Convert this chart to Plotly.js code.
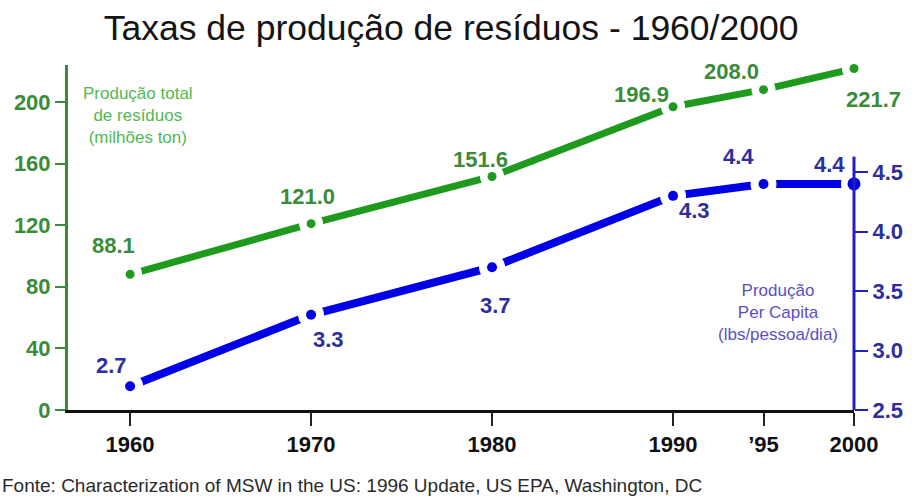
<!DOCTYPE html>
<html>
<head>
<meta charset="utf-8">
<script src="https://cdn.plot.ly/plotly-3.0.1.min.js"></script>
<style>html,body{margin:0;padding:0;background:#fff;}#chart{width:915px;height:500px;}</style>
</head>
<body>
<div id="chart"></div>
<script>
// ---- data ----
const years = [1960, 1970, 1980, 1990, 1995, 2000];
const yearLabels = ['1960', '1970', '1980', '1990', '\u201995', '2000'];
const totalWaste = [88.1, 121.0, 151.6, 196.9, 208.0, 221.7];      // milhões ton
const perCapita = [2.7, 3.3, 3.7, 4.3, 4.4, 4.4];                  // lbs/pessoa/dia
const totalLabels = ['88.1', '121.0', '151.6', '196.9', '208.0', '221.7'];
const perCapitaLabels = ['2.7', '3.3', '3.7', '4.3', '4.4', '4.4'];
const leftTicks = [0, 40, 80, 120, 160, 200];
const rightTicks = [2.5, 3.0, 3.5, 4.0, 4.5];
const rightTickLabels = ['2.5', '3.0', '3.5', '4.0', '4.5'];

// ---- styles ----
const FONT = 'Liberation Sans, Arial, Helvetica, sans-serif';
const GREEN_LINE = '#1e9b1e';
const GREEN_TEXT = '#3a8c3a';
const GREEN_NOTE = '#52b852';
const BLUE_LINE = '#0000e6';
const BLUE_TEXT = '#2e2e9c';
const BLUE_NOTE = '#5a4fc6';
const greenShift = [[-17, 29], [-4, 27], [-12, 17], [-32, 12], [-32, 18], [19, -31]];
const blueShift = [[-19, 21], [17, -25], [3, -38], [21, -15], [-25, 27], [-25, 19]];
const blueDotSizes = [10, 10, 10, 10, 10, 13];

const traces = [
  // connecting lines
  {x: years, y: totalWaste, type: 'scatter', mode: 'lines',
   line: {color: GREEN_LINE, width: 7}, cliponaxis: false, hoverinfo: 'skip'},
  {x: years, y: perCapita, type: 'scatter', mode: 'lines', yaxis: 'y2',
   line: {color: BLUE_LINE, width: 8}, cliponaxis: false, hoverinfo: 'skip'},
  // white gaps around the data points
  {x: years, y: totalWaste, type: 'scatter', mode: 'markers',
   marker: {size: 24, color: '#ffffff', opacity: 1, line: {width: 0}}, cliponaxis: false, hoverinfo: 'skip'},
  {x: years, y: perCapita, type: 'scatter', mode: 'markers', yaxis: 'y2',
   marker: {size: 26, color: '#ffffff', opacity: 1, line: {width: 0}}, cliponaxis: false, hoverinfo: 'skip'},
  // data points
  {x: years, y: totalWaste, type: 'scatter', mode: 'markers',
   marker: {size: 9, color: GREEN_LINE, opacity: 1, line: {width: 0}}, cliponaxis: false, hoverinfo: 'x+y'},
  {x: years, y: perCapita, type: 'scatter', mode: 'markers', yaxis: 'y2',
   marker: {size: blueDotSizes, color: BLUE_LINE, opacity: 1, line: {width: 0}}, cliponaxis: false, hoverinfo: 'x+y'}
];

const annotations = [];
years.forEach((yr, i) => {
  annotations.push({
    x: yr, y: totalWaste[i], xref: 'x', yref: 'y', text: totalLabels[i], showarrow: false,
    xshift: greenShift[i][0], yshift: greenShift[i][1],
    font: {family: FONT, size: 22, color: GREEN_TEXT, weight: 'bold'}
  });
  annotations.push({
    x: yr, y: perCapita[i], xref: 'x', yref: 'y2', text: perCapitaLabels[i], showarrow: false,
    xshift: blueShift[i][0], yshift: blueShift[i][1],
    font: {family: FONT, size: 22, color: BLUE_TEXT, weight: 'bold'}
  });
});
annotations.push({
  xref: 'paper', yref: 'paper', x: 0.089, y: 0.855, xanchor: 'center', yanchor: 'middle',
  text: 'Produção total<br>de resíduos<br>(milhões ton)', showarrow: false, align: 'center',
  font: {family: FONT, size: 17, color: GREEN_NOTE}
});
annotations.push({
  xref: 'paper', yref: 'paper', x: 0.903, y: 0.284, xanchor: 'center', yanchor: 'middle',
  text: 'Produção<br>Per Capita<br>(lbs/pessoa/dia)', showarrow: false, align: 'center',
  font: {family: FONT, size: 17, color: BLUE_NOTE}
});
annotations.push({
  xref: 'paper', yref: 'paper', x: -0.087, y: -0.218, xanchor: 'left', yanchor: 'middle',
  text: 'Fonte: Characterization of MSW in the US: 1996 Update, US EPA, Washington, DC',
  showarrow: false, font: {family: FONT, size: 19, color: '#2a2a2a'}
});

const layout = {
  width: 915, height: 500,
  margin: {l: 68, r: 61, t: 65, b: 90},
  paper_bgcolor: '#ffffff', plot_bgcolor: '#ffffff',
  showlegend: false,
  title: {
    text: 'Taxas de produção de resíduos - 1960/2000',
    x: 0.493, xref: 'container', xanchor: 'center',
    y: 0.944, yref: 'container', yanchor: 'middle',
    font: {family: FONT, size: 35.5, color: '#141414'}
  },
  xaxis: {
    range: [1956.57, 2000],
    tickmode: 'array', tickvals: years, ticktext: yearLabels,
    showline: true, linecolor: '#111111', linewidth: 3,
    ticks: 'outside', ticklen: 13, tickwidth: 2, tickcolor: '#222222',
    showgrid: false, zeroline: false,
    tickfont: {family: FONT, size: 22, color: '#111111', weight: 'bold'}
  },
  yaxis: {
    range: [0, 224],
    tickmode: 'array', tickvals: leftTicks,
    showline: true, linecolor: GREEN_TEXT, linewidth: 3,
    ticks: 'outside', ticklen: 10, tickwidth: 2, tickcolor: GREEN_TEXT,
    showgrid: false, zeroline: false,
    tickfont: {family: FONT, size: 22, color: GREEN_TEXT, weight: 'bold'}
  },
  yaxis2: {
    range: [2.5, 5.4], overlaying: 'y', side: 'right',
    tickmode: 'array', tickvals: rightTicks, ticktext: rightTickLabels,
    showline: false,
    ticks: 'outside', ticklen: 13, tickwidth: 2, tickcolor: '#2020c0',
    showgrid: false, zeroline: false,
    tickfont: {family: FONT, size: 22, color: BLUE_TEXT, weight: 'bold'}
  },
  shapes: [{
    type: 'line', xref: 'paper', yref: 'y2', x0: 1, x1: 1, y0: 2.5, y1: 4.63,
    line: {color: '#2020c0', width: 3}, layer: 'above'
  }],
  annotations: annotations
};

Plotly.newPlot('chart', traces, layout, {displayModeBar: false, staticPlot: true});
</script>
</body>
</html>
